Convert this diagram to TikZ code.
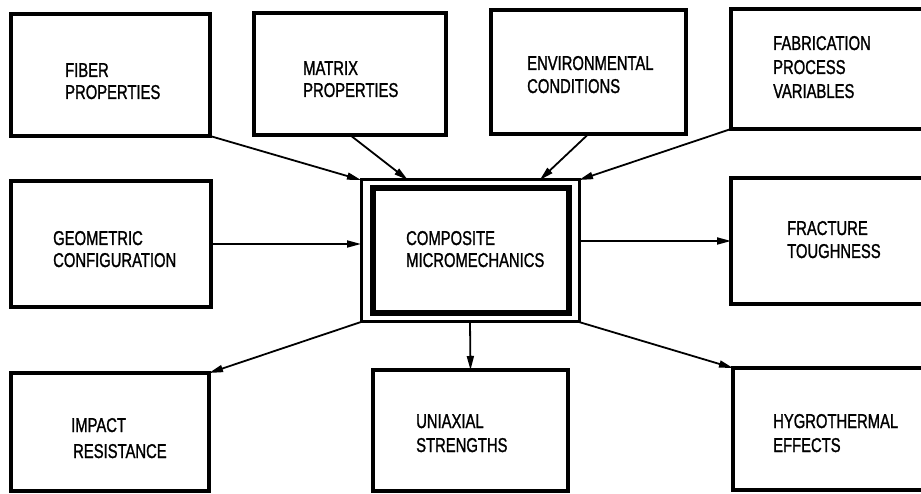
\documentclass[tikz,border=0pt]{standalone}
\usepackage{fontspec}
\setmainfont{Liberation Sans}[FakeStretch=0.74,FakeBold=1.2]
\usetikzlibrary{arrows.meta,calc}
\tikzset{
  box/.style={draw=black, line width=4pt, rectangle, inner sep=0pt, outer sep=0pt, anchor=north west},
  lbl/.style={anchor=base west, inner sep=0pt, text=black},
  conn/.style={draw=black, line width=1.8pt, -{Triangle[length=14pt,width=7pt]}},
}
\newcommand{\twol}[3]{\fontsize{20}{#1}\selectfont\begin{tabular}[t]{@{}l@{}}#2\\#3\end{tabular}}
\newcommand{\threel}[4]{\fontsize{20}{#1}\selectfont\begin{tabular}[t]{@{}l@{}}#2\\#3\\#4\end{tabular}}
\begin{document}
\begin{tikzpicture}[x=1pt,y=-1pt]
\clip (0,0) rectangle (921,494);
\fill[white] (0,0) rectangle (921,494);
% boxes
\node[box, minimum width=199pt, minimum height=122pt] (fiber) at (11,14) {};
\node[box, minimum width=192pt, minimum height=122pt] (matrix) at (254,13) {};
\node[box, minimum width=195pt, minimum height=124pt] (env) at (491,10) {};
\node[box, minimum width=230pt, minimum height=120pt] (fab) at (731,9) {};
\node[box, minimum width=200pt, minimum height=126pt] (geo) at (11,181) {};
\node[box, minimum width=230pt, minimum height=126pt] (frac) at (731,178) {};
\node[box, minimum width=198pt, minimum height=118pt] (impact) at (11,373) {};
\node[box, minimum width=195pt, minimum height=121pt] (uniax) at (373,370) {};
\node[box, minimum width=230pt, minimum height=122pt] (hygro) at (733,368) {};
\node[box, line width=3pt, minimum width=218pt, minimum height=142pt] (outer) at (361,180) {};
\node[box, line width=5.5pt, minimum width=196pt, minimum height=125pt] (inner) at (373,188) {};
% labels
\node[lbl] (tfiber) at (65,77) {\twol{22pt}{FIBER}{PROPERTIES}};
\node[lbl] (tmatrix) at (303,75) {\twol{22pt}{MATRIX}{PROPERTIES}};
\node[lbl] (tenv) at (527,70) {\twol{23pt}{ENVIRONMENTAL}{CONDITIONS}};
\node[lbl] (tfab) at (773,50) {\threel{24pt}{FABRICATION}{PROCESS}{VARIABLES}};
\node[lbl] (tgeo) at (53,245) {\twol{22pt}{GEOMETRIC}{CONFIGURATION}};
\node[lbl] (tcomp) at (406,245) {\twol{22pt}{COMPOSITE}{MICROMECHANICS}};
\node[lbl] (tfrac) at (787,235) {\twol{23pt}{FRACTURE}{TOUGHNESS}};
\node[lbl] (timpact) at (71,432) {\twol{26pt}{IMPACT}{\hspace{2pt}RESISTANCE}};
\node[lbl] (tuniax) at (416,428) {\twol{24pt}{UNIAXIAL}{STRENGTHS}};
\node[lbl] (thygro) at (773,428) {\twol{24pt}{HYGROTHERMAL}{EFFECTS}};
% connectors
\draw[conn] (fiber.south east) -- (outer.north west);
\draw[conn] (matrix.south) -- ($(outer.north west)!0.215!(outer.north east)$);
\draw[conn] (env.south) -- ($(outer.north west)!0.82!(outer.north east)$);
\draw[conn] (fab.south west) -- (outer.north east);
\draw[conn] (geo.east) -- (geo.east -| outer.west);
\draw[conn] (outer.east |- frac.west) -- (frac.west);
\draw[conn] (outer.south west) -- (impact.north east);
\draw[conn] (outer.south) -- (uniax.north);
\draw[conn] (outer.south east) -- (hygro.north west);
\end{tikzpicture}
\end{document}
